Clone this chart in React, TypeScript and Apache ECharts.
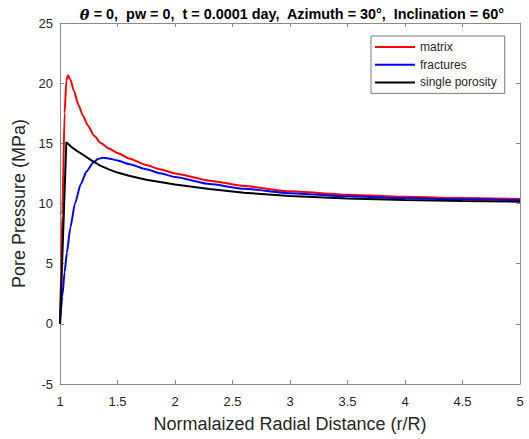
import React, { useEffect, useRef } from "react";
import * as echarts from "echarts";

const matrixX = [1, 1.01, 1.02, 1.04, 1.055, 1.07, 1.09, 1.12, 1.16, 1.2, 1.24, 1.3, 1.35, 1.43, 1.5, 1.6, 1.75, 1.87, 2.0, 2.3, 2.6, 3, 3.5, 4, 4.5, 5];
const matrixY = [0, 4.5, 9, 17.5, 20.2, 20.65, 20.3, 19.4, 18.2, 17.3, 16.5, 15.6, 15.05, 14.55, 14.2, 13.75, 13.2, 12.85, 12.5, 11.9, 11.45, 11.02, 10.73, 10.56, 10.45, 10.37];

const fracX = [1, 1.02, 1.04, 1.06, 1.09, 1.13, 1.18, 1.23, 1.29, 1.33, 1.37, 1.42, 1.5, 1.6, 1.75, 1.87, 2.0, 2.3, 2.6, 3, 3.5, 4, 4.5, 5];
const fracY = [0, 2.3, 4.3, 5.9, 8.0, 10.0, 11.6, 12.65, 13.4, 13.7, 13.8, 13.75, 13.58, 13.28, 12.85, 12.52, 12.2, 11.62, 11.22, 10.86, 10.6, 10.45, 10.35, 10.28];

const singleX = [1, 1.055, 1.1, 1.15, 1.2, 1.27, 1.35, 1.43, 1.5, 1.6, 1.75, 1.87, 2.0, 2.3, 2.6, 3, 3.5, 4, 4.5, 5];
const singleY = [0, 15.1, 14.7, 14.35, 14.05, 13.6, 13.15, 12.82, 12.57, 12.3, 11.98, 11.78, 11.58, 11.2, 10.9, 10.62, 10.42, 10.3, 10.21, 10.15];

const seriesNames = ["matrix", "fractures", "single porosity"];
const seriesColors = ["#ff0000", "#0000ff", "#000000"];

const xMin = 1, xMax = 5, xInterval = 0.5;
const yMin = -5, yMax = 25, yInterval = 5;

function pairs(xs: number[], ys: number[]) {
  return xs.map((x, i) => [x, ys[i]]);
}

export default function App() {
  const ref = useRef<HTMLDivElement>(null);
  useEffect(() => {
    if (!ref.current) return;
    const chart = echarts.init(ref.current, undefined, { renderer: "svg" });
    const axisColor = "#8a8a8a";
    const labelColor = "#262626";
    const font = "Liberation Sans, Arial, sans-serif";
    const datasets = [pairs(matrixX, matrixY), pairs(fracX, fracY), pairs(singleX, singleY)];
    chart.setOption({
      animation: false,
      backgroundColor: "#ffffff",
      title: {
        text: "{t|θ} = 0,  pw = 0,  t = 0.0001 day,  Azimuth = 30°,  Inclination = 60°",
        left: 287,
        textAlign: "center",
        top: 2,
        textStyle: {
          fontFamily: font,
          fontSize: 14.4,
          fontWeight: "bold",
          color: "#000",
          rich: {
            t: { fontFamily: "DejaVu Serif, serif", fontStyle: "italic", fontWeight: "bold", fontSize: 14.4, color: "#000" },
          },
        },
      },
      legend: {
        orient: "vertical",
        left: 371,
        top: 36,
        padding: [4, 8, 4, 4],
        itemGap: 3.7,
        itemWidth: 40,
        itemHeight: 2,
        icon: "rect",
        borderColor: "#7a7a7a",
        borderWidth: 1,
        backgroundColor: "#fff",
        textStyle: { fontFamily: font, fontSize: 12, color: labelColor, lineHeight: 14 },
        data: seriesNames,
      },
      grid: { left: 60, right: 9, top: 23, bottom: 55, containLabel: false },
      xAxis: [
        {
          type: "value",
          min: xMin,
          max: xMax,
          interval: xInterval,
          name: "Normalaized Radial Distance (r/R)",
          nameLocation: "middle",
          nameGap: 31,
          nameTextStyle: { fontFamily: font, fontSize: 18, color: labelColor },
          axisLine: { show: true, onZero: false, lineStyle: { color: axisColor } },
          axisTick: { show: true, inside: true, length: 4, lineStyle: { color: axisColor } },
          axisLabel: { fontFamily: font, fontSize: 13, color: labelColor, margin: 11 },
          splitLine: { show: false },
        },
        {
          type: "value",
          position: "top",
          min: xMin,
          max: xMax,
          interval: xInterval,
          axisLine: { show: true, onZero: false, lineStyle: { color: axisColor } },
          axisTick: { show: true, inside: true, length: 4, lineStyle: { color: axisColor } },
          axisLabel: { show: false },
          splitLine: { show: false },
        },
      ],
      yAxis: [
        {
          type: "value",
          min: yMin,
          max: yMax,
          interval: yInterval,
          name: "Pore Pressure (MPa)",
          nameLocation: "middle",
          nameGap: 23,
          nameTextStyle: { fontFamily: font, fontSize: 18, color: labelColor },
          axisLine: { show: true, onZero: false, lineStyle: { color: axisColor } },
          axisTick: { show: true, inside: true, length: 4, lineStyle: { color: axisColor } },
          axisLabel: { fontFamily: font, fontSize: 13, color: labelColor, margin: 7 },
          splitLine: { show: false },
        },
        {
          type: "value",
          position: "right",
          min: yMin,
          max: yMax,
          interval: yInterval,
          axisLine: { show: true, onZero: false, lineStyle: { color: axisColor } },
          axisTick: { show: true, inside: true, length: 4, lineStyle: { color: axisColor } },
          axisLabel: { show: false },
          splitLine: { show: false },
        },
      ],
      series: seriesNames.map((name, i) => ({
        name,
        type: "line",
        xAxisIndex: 0,
        yAxisIndex: 0,
        data: datasets[i],
        showSymbol: false,
        symbol: "none",
        smooth: i === 2 ? false : 0.2,
        smoothMonotone: "x",
        lineStyle: { color: seriesColors[i], width: 2 },
        itemStyle: { color: seriesColors[i] },
      })),
    });
    return () => chart.dispose();
  }, []);
  return (
    <div
      ref={ref}
      style={{ position: "absolute", left: 0, top: 0, width: 529, height: 439 }}
    />
  );
}
